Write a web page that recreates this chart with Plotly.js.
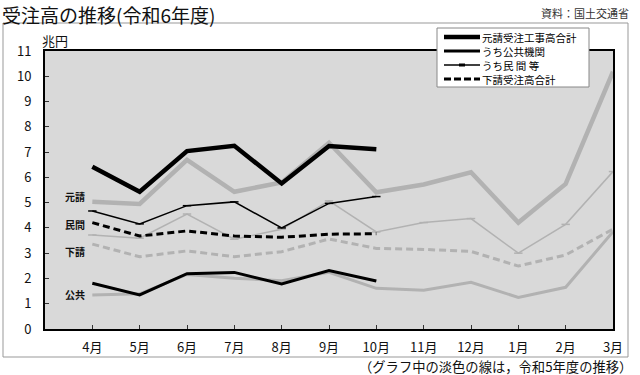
<!DOCTYPE html>
<html>
<head>
<meta charset="utf-8">
<script src="https://cdn.plot.ly/plotly-3.0.1.min.js"></script>
<style>html,body{margin:0;padding:0;background:#fff;}#chart{width:640px;height:375px;}</style>
</head>
<body>
<div id="chart"></div>
<script>
// ---- data ----
const months = ['4月','5月','6月','7月','8月','9月','10月','11月','12月','1月','2月','3月'];
const months2024 = months.slice(0, 7);
const motouke2024 = [6.42, 5.43, 7.04, 7.25, 5.76, 7.24, 7.11];
const motouke2023 = [5.04, 4.95, 6.69, 5.43, 5.80, 7.37, 5.41, 5.72, 6.20, 4.21, 5.74, 10.18];
const kokyo2024 = [1.81, 1.35, 2.19, 2.24, 1.78, 2.31, 1.90];
const kokyo2023 = [1.35, 1.39, 2.16, 2.01, 1.91, 2.24, 1.61, 1.53, 1.85, 1.25, 1.65, 3.85];
const minkan2024 = [4.67, 4.16, 4.88, 5.03, 4.00, 4.97, 5.24];
const minkan2023 = [3.72, 3.59, 4.55, 3.55, 3.95, 5.07, 3.84, 4.21, 4.37, 3.00, 4.14, 6.23];
const shita2024 = [4.21, 3.68, 3.88, 3.68, 3.63, 3.75, 3.77];
const shita2023 = [3.36, 2.86, 3.09, 2.86, 3.06, 3.56, 3.19, 3.15, 3.07, 2.49, 2.93, 3.95];
const legendLabels = ['元請受注工事高合計', 'うち公共機関', 'うち民 間 等', '下請受注高合計'];
const seriesTags = ['元請', '民間', '下請', '公共'];
const yTicks = [0,1,2,3,4,5,6,7,8,9,10,11];

// ---- styling ----
const FONT = '"Noto Sans CJK JP", "Noto Sans", sans-serif';
const GRAY = '#b2b2b2';
const BLACK = '#000000';

const traces = [
  // previous year (light)
  {x: months, y: motouke2023, mode: 'lines', line: {color: GRAY, width: 4.5}},
  {x: months, y: kokyo2023, mode: 'lines', line: {color: GRAY, width: 3}},
  {x: months, y: minkan2023, mode: 'lines+markers', line: {color: GRAY, width: 1.5},
   marker: {symbol: 'line-ew', size: 6, line: {color: GRAY, width: 1.5}}},
  {x: months, y: shita2023, mode: 'lines', line: {color: GRAY, width: 3, dash: '7px,4px'}},
  // current year
  {x: months2024, y: motouke2024, mode: 'lines', line: {color: BLACK, width: 4.5}},
  {x: months2024, y: kokyo2024, mode: 'lines', line: {color: BLACK, width: 3}},
  {x: months2024, y: minkan2024, mode: 'lines+markers', line: {color: BLACK, width: 1.5},
   marker: {symbol: 'line-ew', size: 6, line: {color: BLACK, width: 1.5}}},
  {x: months2024, y: shita2024, mode: 'lines', line: {color: BLACK, width: 3, dash: '7px,4px'}}
].map(t => Object.assign(t, {showlegend: false, hoverinfo: 'skip'}));

// pixel -> paper helpers (plot area: x 45..613, y 51..329)
const L = 45, R = 613, T = 51, B = 329;
const px = v => (v - L) / (R - L);
const py = v => (B - v) / (B - T);

const shapes = [
  // outer frame
  {type: 'rect', xref: 'paper', yref: 'paper', x0: px(3), x1: px(628), y0: py(23), y1: py(357),
   line: {color: '#999999', width: 1}, fillcolor: 'rgba(0,0,0,0)', layer: 'below'},
  // legend box
  {type: 'rect', xref: 'paper', yref: 'paper', x0: px(437), x1: px(589), y0: py(28), y1: py(87),
   line: {color: '#888888', width: 1}, fillcolor: '#ffffff', layer: 'above'}
];
const annotations = [];
const legendStyles = [
  {width: 4.5, dash: 'solid'},
  {width: 3, dash: 'solid'},
  {width: 1.5, dash: 'solid'},
  {width: 3, dash: '7px,3px'}
];
legendLabels.forEach((lab, i) => {
  const yy = 37 + i * 14;
  shapes.push({type: 'line', xref: 'paper', yref: 'paper', x0: px(444), x1: px(480), y0: py(yy), y1: py(yy),
    line: {color: BLACK, width: legendStyles[i].width, dash: legendStyles[i].dash}, layer: 'above'});
  if (i === 2) {
    shapes.push({type: 'line', xref: 'paper', yref: 'paper', x0: px(459), x1: px(465), y0: py(yy), y1: py(yy),
      line: {color: BLACK, width: 3}, layer: 'above'});
  }
  annotations.push({xref: 'paper', yref: 'paper', x: px(482), y: py(yy), xanchor: 'left', yanchor: 'middle',
    text: lab, showarrow: false, borderpad: 0, borderwidth: 0,
    font: {family: FONT, size: 10.5, color: BLACK}});
});

// series tags on the left
const tagY = [5.26, 4.15, 3.05, 1.35];
seriesTags.forEach((t, i) => {
  annotations.push({xref: 'x', yref: 'y', x: -0.12, y: tagY[i], xanchor: 'right', yanchor: 'middle',
    text: '<b>' + t + '</b>', showarrow: false, font: {family: FONT, size: 10, color: '#111'}});
});

// texts
annotations.push(
  {xref: 'paper', yref: 'paper', x: px(1), y: py(14.5), xanchor: 'left', yanchor: 'middle',
   text: '受注高の推移(令和6年度)', showarrow: false, borderpad: 0,
   font: {family: FONT, size: 19, color: '#111'}},
  {xref: 'paper', yref: 'paper', x: px(631), y: py(13), xanchor: 'right', yanchor: 'middle',
   text: '資料：国土交通省', showarrow: false, font: {family: FONT, size: 11, color: '#333'}},
  {xref: 'paper', yref: 'paper', x: px(40), y: py(40), xanchor: 'left', yanchor: 'middle',
   text: '兆円', showarrow: false, font: {family: FONT, size: 13, color: '#111'}},
  {xref: 'paper', yref: 'paper', x: px(633), y: py(366), xanchor: 'right', yanchor: 'middle',
   text: '（グラフ中の淡色の線は，令和5年度の推移）', showarrow: false, borderpad: 0,
   font: {family: FONT, size: 13.3, color: '#111'}}
);

const layout = {
  width: 640, height: 375,
  margin: {l: L, r: 640 - R, t: T, b: 375 - B, pad: 0},
  paper_bgcolor: '#ffffff',
  plot_bgcolor: '#d9d9d9',
  showlegend: false,
  font: {family: FONT, size: 13, color: '#111'},
  xaxis: {
    type: 'category', categoryorder: 'array', categoryarray: months,
    range: [-1, 11], fixedrange: true,
    showgrid: false, zeroline: false,
    showline: true, linecolor: BLACK, linewidth: 2, mirror: true,
    ticks: 'inside', ticklen: 4, tickcolor: '#333', tickwidth: 1,
    ticklabelstandoff: 5,
    tickfont: {family: FONT, size: 13, color: '#111'}
  },
  yaxis: {
    range: [0, 11], tickvals: yTicks, fixedrange: true,
    showgrid: false, zeroline: false,
    showline: true, linecolor: BLACK, linewidth: 2, mirror: true,
    ticks: 'inside', ticklen: 4, tickcolor: '#333', tickwidth: 1,
    ticklabelstandoff: 9,
    tickfont: {family: FONT, size: 13, color: '#111'}
  },
  shapes: shapes,
  annotations: annotations
};

Plotly.newPlot('chart', traces, layout, {displayModeBar: false, staticPlot: true});
</script>
</body>
</html>
